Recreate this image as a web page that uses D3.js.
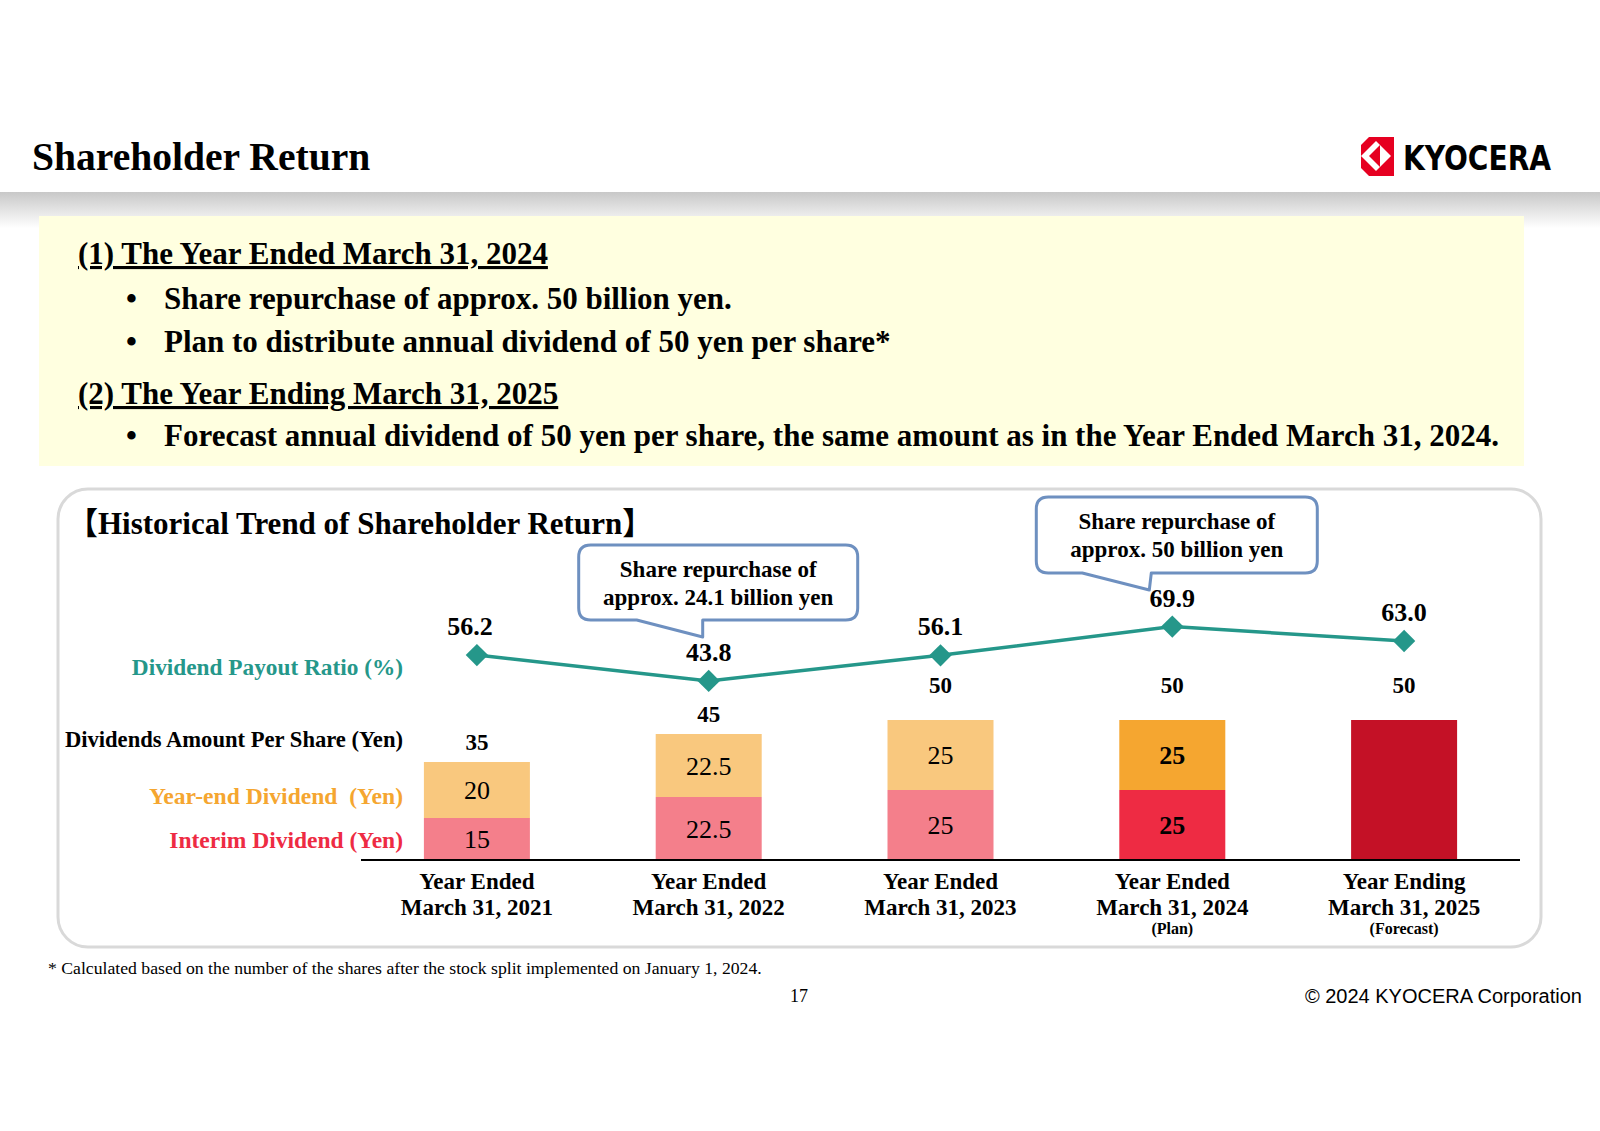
<!DOCTYPE html>
<html>
<head>
<meta charset="utf-8">
<script src="https://cdn.jsdelivr.net/npm/d3@7"></script>
<style>
  body { margin: 0; background: #fff; }
  svg { display: block; }
</style>
</head>
<body>
<script>
  // ---- chart values ----
  const categories = ["FY2021", "FY2022", "FY2023", "FY2024", "FY2025"];
  const categoryLine1 = ["Year Ended", "Year Ended", "Year Ended", "Year Ended", "Year Ending"];
  const categoryLine2 = ["March 31, 2021", "March 31, 2022", "March 31, 2023", "March 31, 2024", "March 31, 2025"];
  const categoryNote = ["", "", "", "(Plan)", "(Forecast)"];

  const interimDividend = [15, 22.5, 25, 25, null];   // null = not split (forecast)
  const yearEndDividend = [20, 22.5, 25, 25, null];
  const totalDividend = [35, 45, 50, 50, 50];
  const payoutRatio = [56.2, 43.8, 56.1, 69.9, 63.0];

  const calloutCategory = ["FY2022", "FY2024"];
  const calloutText = [
    ["Share repurchase of", "approx. 24.1 billion yen"],
    ["Share repurchase of", "approx. 50 billion yen"]
  ];

  const bulletsA = ["Share repurchase of approx. 50 billion yen.",
                    "Plan to distribute annual dividend of 50 yen per share*"];
  const bulletsB = ["Forecast annual dividend of 50 yen per share, the same amount as in the Year Ended March 31, 2024."];

  // colours
  const interimColors = ["#f47f8b", "#f47f8b", "#f47f8b", "#ee2b43"];
  const yearEndColors = ["#f9c87e", "#f9c87e", "#f9c87e", "#f5a630"];
  const forecastColor = "#c41126";
  const teal = "#25978a";
  const serif = "'Liberation Serif', 'Times New Roman', serif";

  const width = 1600;
  const height = 1131;

  const svg = d3.select("body")
    .append("svg")
    .attr("width", width)
    .attr("height", height);

  const defs = svg.append("defs");
  const grad = defs.append("linearGradient")
    .attr("id", "hdr").attr("x1", 0).attr("y1", 0).attr("x2", 0).attr("y2", 1);
  grad.append("stop").attr("offset", "0%").attr("stop-color", "#c8c8c8");
  grad.append("stop").attr("offset", "100%").attr("stop-color", "#ffffff");

  // ---- header ----
  svg.append("rect").attr("x", 0).attr("y", 192).attr("width", width).attr("height", 36)
    .attr("fill", "url(#hdr)");

  svg.append("text")
    .attr("x", 32).attr("y", 170)
    .attr("font-family", serif).attr("font-weight", "bold").attr("font-size", 39.6)
    .text("Shareholder Return");

  // logo (approximate emblem + wordmark)
  const logo = svg.append("g");
  logo.append("rect").attr("x", 1361).attr("y", 137).attr("width", 33).attr("height", 39).attr("fill", "#e60021");
  logo.append("polygon").attr("points", "1361,156 1376,141 1391,156 1376,171").attr("fill", "#fff");
  logo.append("polygon").attr("points", "1369,156 1380,145 1380,167").attr("fill", "#e60021");
  logo.append("polygon").attr("points", "1361,137 1369,137 1361,145").attr("fill", "#fff");
  logo.append("polygon").attr("points", "1361,176 1369,176 1361,168").attr("fill", "#fff");
  logo.append("text")
    .attr("x", 1403).attr("y", 170)
    .attr("font-family", "'DejaVu Sans Condensed', 'DejaVu Sans', sans-serif")
    .attr("font-weight", "bold").attr("font-size", 34)
    .attr("textLength", 148).attr("lengthAdjust", "spacingAndGlyphs")
    .text("KYOCERA");

  // ---- yellow summary box ----
  svg.append("rect").attr("x", 39).attr("y", 216).attr("width", 1485).attr("height", 250)
    .attr("fill", "#ffffe0");

  const summary = svg.append("g")
    .attr("font-family", serif).attr("font-weight", "bold").attr("font-size", 31);

  summary.append("text").attr("x", 78).attr("y", 264)
    .attr("text-decoration", "underline")
    .text("(1) The Year Ended March 31, 2024");
  summary.append("text").attr("x", 78).attr("y", 404)
    .attr("text-decoration", "underline")
    .text("(2) The Year Ending March 31, 2025");

  const bulletLines = [
    { y: 309, text: bulletsA[0] },
    { y: 352, text: bulletsA[1] },
    { y: 446, text: bulletsB[0] }
  ];
  bulletLines.forEach(b => {
    summary.append("text").attr("x", 126).attr("y", b.y).text("\u2022");
    summary.append("text").attr("x", 164).attr("y", b.y).text(b.text);
  });

  // ---- chart panel ----
  svg.append("rect")
    .attr("x", 58).attr("y", 489).attr("width", 1483).attr("height", 458)
    .attr("rx", 30).attr("ry", 30)
    .attr("fill", "#fff").attr("stroke", "#d9d9d9").attr("stroke-width", 3);

  svg.append("text")
    .attr("x", 67).attr("y", 534)
    .attr("font-family", serif + ", 'Noto Sans CJK JP'").attr("font-weight", "bold").attr("font-size", 31)
    .text("\u3010Historical Trend of Shareholder Return\u3011");

  // scales
  const x = d3.scalePoint()
    .domain(categories)
    .range([361, 1520])
    .padding(0.5);

  const yBar = d3.scaleLinear()
    .domain([0, 50])
    .range([860, 720]);

  const yRatio = d3.scaleLinear()
    .domain([0, 100])
    .range([772, 564]);

  const barWidth = 106;

  // stacked bars
  const bars = svg.append("g");
  categories.forEach((c, i) => {
    const cx = x(c);
    if (interimDividend[i] == null) {
      bars.append("rect")
        .attr("x", cx - barWidth / 2).attr("y", yBar(totalDividend[i]))
        .attr("width", barWidth).attr("height", yBar(0) - yBar(totalDividend[i]))
        .attr("fill", forecastColor);
      return;
    }
    const bold = i === 3 ? "bold" : "normal";
    // interim (bottom)
    bars.append("rect")
      .attr("x", cx - barWidth / 2).attr("y", yBar(interimDividend[i]))
      .attr("width", barWidth).attr("height", yBar(0) - yBar(interimDividend[i]))
      .attr("fill", interimColors[i]);
    // year-end (top)
    const top = interimDividend[i] + yearEndDividend[i];
    bars.append("rect")
      .attr("x", cx - barWidth / 2).attr("y", yBar(top))
      .attr("width", barWidth).attr("height", yBar(interimDividend[i]) - yBar(top))
      .attr("fill", yearEndColors[i]);

    bars.append("text")
      .attr("x", cx).attr("y", (yBar(0) + yBar(interimDividend[i])) / 2)
      .attr("dy", "0.35em").attr("text-anchor", "middle")
      .attr("font-family", serif).attr("font-size", 26).attr("font-weight", bold)
      .text(interimDividend[i]);
    bars.append("text")
      .attr("x", cx).attr("y", (yBar(interimDividend[i]) + yBar(top)) / 2)
      .attr("dy", "0.35em").attr("text-anchor", "middle")
      .attr("font-family", serif).attr("font-size", 26).attr("font-weight", bold)
      .text(yearEndDividend[i]);
  });

  // total labels
  svg.append("g").selectAll("text")
    .data(totalDividend)
    .enter()
    .append("text")
    .attr("x", (d, i) => x(categories[i]))
    .attr("y", d => yBar(d) - (d >= 50 ? 27 : 12))
    .attr("text-anchor", "middle")
    .attr("font-family", serif).attr("font-weight", "bold").attr("font-size", 23)
    .text(d => d);

  // axis baseline
  svg.append("line")
    .attr("x1", x.range()[0]).attr("x2", x.range()[1])
    .attr("y1", yBar(0)).attr("y2", yBar(0))
    .attr("stroke", "#000").attr("stroke-width", 2);

  // category labels
  const catG = svg.append("g")
    .attr("font-family", serif).attr("font-weight", "bold")
    .attr("text-anchor", "middle");
  categories.forEach((c, i) => {
    catG.append("text").attr("x", x(c)).attr("y", 889).attr("font-size", 23).text(categoryLine1[i]);
    catG.append("text").attr("x", x(c)).attr("y", 915).attr("font-size", 23).text(categoryLine2[i]);
    if (categoryNote[i]) {
      catG.append("text").attr("x", x(c)).attr("y", 934).attr("font-size", 16).text(categoryNote[i]);
    }
  });

  // payout ratio line
  const line = d3.line()
    .x((d, i) => x(categories[i]))
    .y(d => yRatio(d));

  svg.append("path")
    .datum(payoutRatio)
    .attr("d", line)
    .attr("fill", "none")
    .attr("stroke", teal)
    .attr("stroke-width", 3.5);

  svg.append("g").selectAll("path")
    .data(payoutRatio)
    .enter()
    .append("path")
    .attr("d", d3.symbol().type(d3.symbolSquare).size(250))
    .attr("transform", (d, i) => `translate(${x(categories[i])},${yRatio(d)}) rotate(45)`)
    .attr("fill", teal);

  svg.append("g").selectAll("text")
    .data(payoutRatio)
    .enter()
    .append("text")
    .attr("x", (d, i) => x(categories[i]) - (i === 0 ? 7 : 0))
    .attr("y", d => yRatio(d) - 20)
    .attr("text-anchor", "middle")
    .attr("font-family", serif).attr("font-weight", "bold").attr("font-size", 26)
    .text(d => d.toFixed(1));

  // row labels on the left
  const rowLabels = [
    { text: "Dividend Payout Ratio (%)", y: 675, color: teal, size: 23.3 },
    { text: "Dividends Amount Per Share (Yen)", y: 747, color: "#000", size: 22.6 },
    { text: "Year-end Dividend\u00a0 (Yen)", y: 804, color: "#f5a630", size: 23.6 },
    { text: "Interim Dividend (Yen)", y: 848, color: "#ee2b43", size: 23.5 }
  ];
  svg.append("g").selectAll("text")
    .data(rowLabels)
    .enter()
    .append("text")
    .attr("x", 403).attr("y", d => d.y)
    .attr("text-anchor", "end")
    .attr("font-family", serif).attr("font-weight", "bold")
    .attr("font-size", d => d.size)
    .attr("fill", d => d.color)
    .text(d => d.text);

  // callouts for share repurchases
  const calloutBoxes = [
    { dx: -130, top: 545, w: 279, h: 75, t1: -72, t2: -6, tipDx: -6, tipY: 637 },
    { dx: -136, top: 497, w: 281, h: 76, t1: -90, t2: -21, tipDx: -23, tipY: 590 }
  ];

  function calloutPath(x0, y0, w, h, r, t1, t2, tx, ty) {
    const x1 = x0 + w, y1 = y0 + h;
    return `M${x0 + r},${y0} H${x1 - r} Q${x1},${y0} ${x1},${y0 + r} V${y1 - r} Q${x1},${y1} ${x1 - r},${y1}` +
      ` H${t2} L${tx},${ty} L${t1},${y1} H${x0 + r} Q${x0},${y1} ${x0},${y1 - r} V${y0 + r} Q${x0},${y0} ${x0 + r},${y0} Z`;
  }

  calloutCategory.forEach((c, i) => {
    const b = calloutBoxes[i];
    const cx = x(c);
    const x0 = cx + b.dx;
    svg.append("path")
      .attr("d", calloutPath(x0, b.top, b.w, b.h, 12, cx + b.t1, cx + b.t2, cx + b.tipDx, b.tipY))
      .attr("fill", "#fff")
      .attr("stroke", "#6e90c0")
      .attr("stroke-width", 3)
      .attr("stroke-linejoin", "round");
    calloutText[i].forEach((t, j) => {
      svg.append("text")
        .attr("x", x0 + b.w / 2).attr("y", b.top + 32 + j * 28)
        .attr("text-anchor", "middle")
        .attr("font-family", serif).attr("font-weight", "bold").attr("font-size", 23)
        .attr("textLength", null)
        .text(t);
    });
  });

  // ---- footer ----
  svg.append("text")
    .attr("x", 48).attr("y", 974)
    .attr("font-family", serif).attr("font-size", 17.7)
    .text("* Calculated based on the number of the shares after the stock split implemented on January 1, 2024.");

  svg.append("text")
    .attr("x", 799).attr("y", 1002)
    .attr("text-anchor", "middle")
    .attr("font-family", serif).attr("font-size", 18)
    .text("17");

  svg.append("text")
    .attr("x", 1582).attr("y", 1003)
    .attr("text-anchor", "end")
    .attr("font-family", "'Liberation Sans', Arial, sans-serif").attr("font-size", 20)
    .text("\u00a9 2024 KYOCERA Corporation");
</script>
</body>
</html>
